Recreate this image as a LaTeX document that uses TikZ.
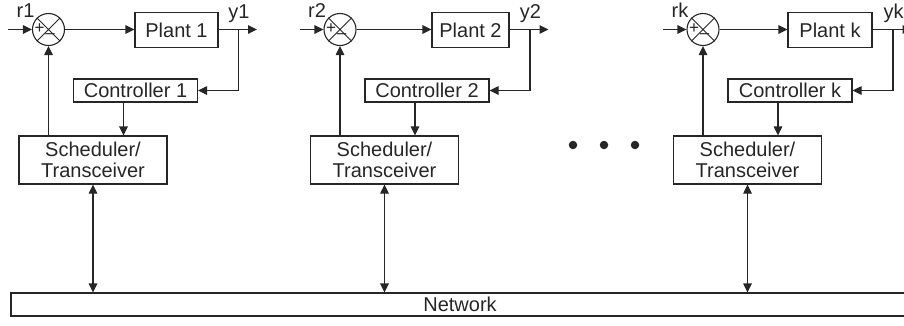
\documentclass[tikz,border=0pt]{standalone}
\usepackage{fontspec}
\setmainfont{Liberation Sans}
\usetikzlibrary{arrows.meta}
\begin{document}
\begin{tikzpicture}[x=1pt,y=-1pt,
  line width=1.1pt, color=black!85,
  >={Triangle[length=9pt,width=8.5pt]},
  box/.style={draw, rectangle, inner sep=0pt, align=center,
    font=\fontsize{20}{21}\selectfont},
  lbl/.style={inner sep=0pt, anchor=base, font=\fontsize{20}{21}\selectfont},
  sign/.style={inner sep=0pt, font=\fontsize{17}{17}\selectfont},
  sumnode/.style={draw, circle, minimum size=32pt, inner sep=0pt},
  dot/.style={fill, circle, minimum size=8.5pt, inner sep=0pt}]
  \clip (0,0) rectangle (904,325);

  % shared network bus
  \node[box, minimum width=898pt, minimum height=23pt] (net) at (460,304.5) {Network};

  % one control loop per plant: s = x of the summing junction
  \foreach \s/\pl/\pr/\k in {48.5/135/218/1, 340/432/509/2, 703/788/872/k} {
    \node[sumnode] (sum\k) at (\s,29.5) {};
    \draw[line width=0.9pt] (sum\k.north west) -- (sum\k.south east)
                            (sum\k.north east) -- (sum\k.south west);
    \node[sign] at (\s-9,28.5) {+};
    \node[sign] at (\s+1.5,36.5) {\textendash};

    \node[box, minimum width={\pr-\pl}, minimum height=35pt]
      (plant\k) at ({(\pl+\pr)/2},30) {Plant \k};
    \node[box, minimum width=124pt, minimum height=23pt]
      (ctrl\k) at (\s+87,90.5) {Controller \k};
    \node[box, minimum width=148pt, minimum height=48pt]
      (sch\k) at (\s+44.5,160) {Scheduler/\\Transceiver};

    \coordinate (in\k)  at (\s-40.5,29.5);
    \coordinate (br\k)  at (\s+190,29.5);
    \coordinate (out\k) at (\s+208.5,29.5);

    \node[lbl] at (\s-23,17.5) {r\k};
    \node[lbl] at (\s+190.5,18) {y\k};

    \draw[->] (in\k) -- (sum\k.west);
    \draw[->] (sum\k.east) -- (sum\k.east -| plant\k.west);
    \draw[->] (plant\k.east |- out\k) -- (out\k);
    \draw[->] (br\k) |- (ctrl\k.east);
    \draw[->] ([xshift=-12pt]ctrl\k.south) -- ([xshift=-12pt]ctrl\k.south |- sch\k.north);
    \draw[->] (sum\k.south |- sch\k.north) -- (sum\k.south);
    \draw[<->] (sch\k.south) -- (sch\k.south |- net.north);
  }

  % ellipsis between loop 2 and loop k
  \node[dot] (d1) at (573,145) {};
  \node[dot] (d2) at (604,145) {};
  \node[dot] (d3) at (635,145) {};
\end{tikzpicture}
\end{document}
